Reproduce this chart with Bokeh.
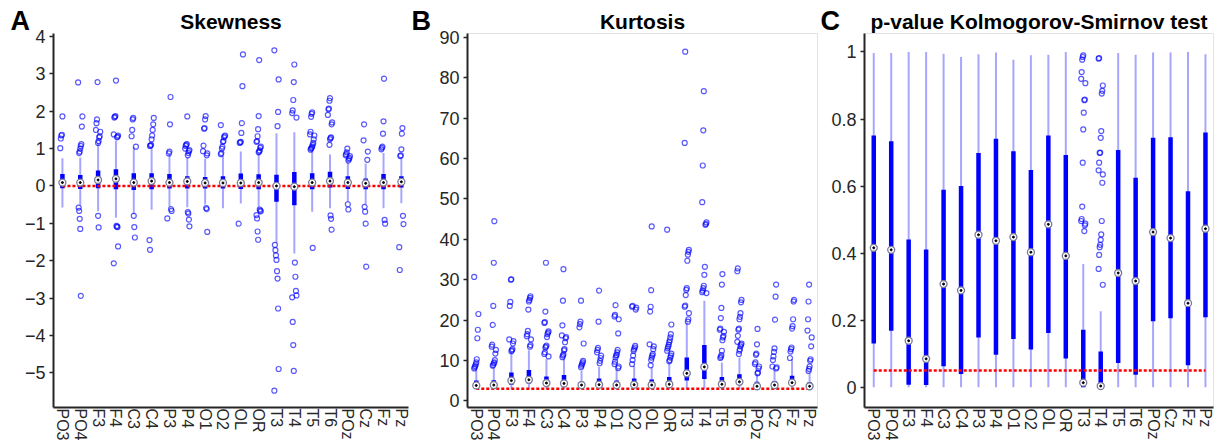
from bokeh.plotting import figure
from bokeh.layouts import row
from bokeh.models import FixedTicker, Range1d, Title
from bokeh.embed import file_html
from bokeh.resources import INLINE

channels = ["PO3", "PO4", "F3", "F4", "C3", "C4", "P3", "P4", "O1", "O2",
            "OL", "OR", "T3", "T4", "T5", "T6", "POz", "Cz", "Fz", "Pz"]

# ---------------- Skewness ----------------
skew_ref = 0.0
skew_med = [0.09, 0.09, 0.16, 0.19, 0.09, 0.13, 0.09, 0.12, 0.08, 0.08,
            0.08, 0.09, 0.0, -0.02, 0.09, 0.13, 0.09, 0.07, 0.09, 0.11]
skew_q1 = [-0.06, -0.08, -0.06, -0.09, -0.11, -0.09, -0.07, -0.07, -0.07, -0.07,
           -0.08, -0.09, -0.42, -0.52, -0.09, -0.04, -0.08, -0.09, -0.09, -0.04]
skew_q3 = [0.32, 0.29, 0.41, 0.45, 0.34, 0.34, 0.32, 0.26, 0.24, 0.26,
           0.33, 0.31, 0.30, 0.37, 0.34, 0.38, 0.26, 0.20, 0.32, 0.26]
skew_wlo = [-0.58, -0.51, -0.68, -0.85, -0.75, -0.64, -0.55, -0.57, -0.50, -0.60,
            -0.47, -0.58, -1.52, -1.81, -0.69, -0.60, -0.43, -0.50, -0.60, -0.46]
skew_whi = [0.74, 0.76, 1.15, 1.20, 1.04, 1.00, 0.86, 0.76, 0.73, 0.80,
            0.92, 0.86, 1.41, 1.44, 0.95, 0.84, 0.63, 0.60, 0.88, 0.76]
skew_out = [
    [1.01, 1.27, 1.35, 1.37, 1.86],
    [0.88, 0.92, 1.0, 1.07, 1.12, 1.59, 1.86, 2.77, -0.58, -0.67, -0.88, -1.15, -2.94],
    [1.15, 1.2, 1.3, 1.33, 1.45, 1.5, 1.68, 1.78, 2.78, -0.8, -1.11],
    [1.3, 1.32, 1.35, 1.38, 1.83, 1.85, 1.87, 2.82, -1.07, -1.09, -1.1, -1.62, -2.07],
    [1.05, 1.33, 1.5, 1.78, 1.82, -0.8, -1.1, -1.38],
    [1.07, 1.08, 1.1, 1.25, 1.35, 1.5, 1.65, 1.82, -1.45, -1.71],
    [0.87, 0.92, 1.65, 2.38, -0.62, -0.67, -0.87],
    [0.82, 0.88, 0.93, 0.96, 1.0, 1.07, 1.1, 1.12, 1.86, -0.7, -0.74, -0.9, -1.08],
    [0.82, 0.87, 0.93, 1.08, 1.53, 1.55, 1.78, 1.87, -0.59, -0.62, -1.23],
    [0.85, 0.88, 1.0, 1.05, 1.18, 1.2, 1.3, 1.33, 1.35, 1.63],
    [1.15, 1.17, 1.18, 1.42, 1.68, 2.67, 3.52, -1.01],
    [0.9, 0.92, 0.95, 1.02, 1.05, 1.18, 1.2, 1.33, 1.52, 1.87, 3.37,
     -0.63, -0.66, -0.68, -0.78, -0.87, -1.22, -1.44],
    [1.6, 1.98, 2.85, 3.63, -1.58, -1.72, -1.86, -1.98, -2.28, -2.48, -3.28, -4.9, -5.48],
    [1.83, 1.95, 2.02, 2.3, 2.78, 3.25, -2.05, -2.43, -2.81, -2.93, -2.98, -3.64, -4.26, -4.95],
    [0.97, 1.0, 1.02, 1.05, 1.1, 1.15, 1.25, 1.35, 1.38, 1.45, 1.85, 1.93, 1.97, -1.66],
    [1.1, 1.25, 1.28, 1.3, 1.65, 1.7, 1.9, 2.05, 2.07, 2.28, 2.35, -0.79, -0.88, -1.17],
    [0.68, 0.72, 0.75, 0.8, 0.82, 0.85, 0.9, 1.0, -0.49, -0.63],
    [0.7, 0.92, 1.22, 1.65, -0.56, -0.69, -1.01, -2.16],
    [0.98, 1.02, 1.05, 1.4, 1.73, 2.87, -0.91, -1.01],
    [0.8, 0.82, 0.98, 1.4, 1.55, -0.8, -1.02, -1.64, -2.25],
]
skew_ticks = [-5, -4, -3, -2, -1, 0, 1, 2, 3, 4]

# ---------------- Kurtosis ----------------
kurt_ref = 3.0
kurt_med = [3.8, 3.9, 5.0, 5.2, 4.4, 4.3, 3.9, 4.0, 3.9, 4.0,
            3.9, 4.1, 6.8, 8.4, 4.1, 4.7, 3.6, 3.9, 4.5, 3.6]
kurt_q1 = [3.3, 3.4, 4.0, 4.3, 3.7, 3.7, 3.3, 3.5, 3.5, 3.5,
           3.5, 3.6, 5.0, 5.4, 3.6, 3.9, 3.1, 3.5, 3.9, 3.1]
kurt_q3 = [5.0, 5.1, 7.0, 7.6, 6.0, 6.4, 4.7, 5.5, 5.0, 5.5,
           5.3, 5.9, 10.7, 13.8, 5.9, 6.6, 4.7, 4.9, 6.2, 4.6]
kurt_wlo = [2.9, 2.9, 3.0, 3.0, 2.9, 2.9, 2.9, 2.9, 2.9, 2.9,
            2.9, 2.9, 3.0, 3.0, 2.9, 2.9, 2.8, 2.9, 2.9, 2.8]
kurt_whi = [7.9, 8.3, 12.0, 12.5, 10.3, 10.5, 7.4, 8.4, 7.9, 8.7,
            8.4, 9.5, 19.4, 24.8, 9.5, 10.7, 6.5, 7.6, 10.3, 7.0]
kurt_out = [
    [8.0, 8.3, 8.6, 9.0, 9.5, 10.3, 15.5, 17.6, 21.5, 30.7],
    [8.7, 8.9, 9.3, 9.5, 10.1, 11.7, 12.6, 13.4, 13.9, 18.8, 23.5, 34.2, 44.5],
    [12.3, 12.5, 12.8, 14.2, 14.8, 15.2, 23.5, 24.5, 30.0, 30.1],
    [13.4, 13.8, 15.2, 16.0, 16.5, 17.3, 22.6, 24.6, 25.0, 25.5, 25.9],
    [11.0, 11.6, 12.0, 13.2, 13.4, 13.7, 15.8, 16.5, 16.9, 17.2, 19.3, 19.5, 22.1, 34.2],
    [10.8, 11.2, 11.5, 12.5, 12.8, 14.5, 15.5, 15.8, 16.2, 18.7, 24.8, 32.6],
    [8.3, 8.7, 9.1, 9.5, 9.9, 14.2, 18.2, 19.0, 19.6, 24.8],
    [9.3, 9.9, 10.6, 11.2, 12.0, 12.6, 13.1, 19.6, 27.3],
    [8.1, 8.5, 9.1, 9.7, 10.7, 11.2, 11.4, 12.0, 12.6, 16.7, 20.2, 20.9, 21.3, 23.7],
    [9.1, 10.1, 11.2, 12.4, 12.8, 13.2, 13.6, 22.6, 23.1, 23.3, 23.5],
    [8.8, 10.1, 10.7, 11.2, 11.6, 12.8, 13.5, 14.0, 22.1, 23.3, 27.4, 43.2],
    [9.8, 10.1, 10.7, 11.2, 11.7, 12.4, 13.0, 13.4, 13.9, 14.5, 15.0, 15.7, 16.5, 18.9, 42.4],
    [19.6, 20.2, 21.7, 23.3, 23.6, 26.2, 27.5, 27.9, 34.7, 36.2, 36.9, 37.4, 63.9, 86.5],
    [26.7, 26.9, 27.3, 27.9, 28.5, 31.2, 33.2, 43.6, 43.8, 44.2, 49.2, 58.3, 67.0, 76.7],
    [10.6, 10.9, 11.3, 12.4, 15.0, 15.7, 16.1, 17.1, 17.6, 17.9, 20.5, 23.0, 28.8, 31.4],
    [11.6, 12.4, 12.8, 13.5, 13.9, 14.2, 14.6, 16.1, 17.6, 17.9, 20.2, 20.8, 21.7,
     24.4, 25.0, 32.1, 32.8],
    [6.8, 7.0, 8.0, 8.5, 9.1, 9.5, 11.4, 11.7, 14.0, 17.8],
    [8.0, 8.3, 8.5, 10.1, 11.0, 12.1, 13.0, 20.1, 25.8, 28.8],
    [10.6, 12.2, 12.8, 13.2, 17.9, 18.5, 20.2, 24.6, 25.0],
    [7.4, 7.9, 8.5, 9.9, 10.3, 13.5, 15.7, 17.4, 20.2, 24.6, 28.8],
]
kurt_ticks = [0, 10, 20, 30, 40, 50, 60, 70, 80, 90]

# ---------------- p-value KS test ----------------
ks_ref = 0.05
ks_med = [0.416, 0.41, 0.139, 0.085, 0.308, 0.289, 0.455, 0.437, 0.448, 0.403,
          0.486, 0.392, 0.014, 0.004, 0.341, 0.317, 0.463, 0.445, 0.251, 0.473]
ks_q1 = [0.131, 0.169, 0.008, 0.007, 0.063, 0.04, 0.149, 0.097, 0.144, 0.113,
         0.162, 0.086, 0.0, 0.0, 0.073, 0.038, 0.197, 0.206, 0.066, 0.209]
ks_q3 = [0.751, 0.734, 0.441, 0.411, 0.589, 0.60, 0.699, 0.741, 0.704, 0.648,
         0.751, 0.693, 0.172, 0.107, 0.708, 0.625, 0.744, 0.746, 0.585, 0.76]
ks_wlo = [0.0, 0.0, 0.0, 0.0, 0.0, 0.0, 0.0, 0.0, 0.0, 0.0,
          0.0, 0.0, 0.0, 0.0, 0.0, 0.0, 0.0, 0.0, 0.0, 0.0]
ks_whi = [0.997, 0.997, 1.0, 1.0, 0.995, 0.985, 0.993, 0.998, 0.977, 0.99,
          0.992, 1.0, 0.368, 0.227, 0.997, 0.992, 0.998, 0.998, 1.0, 0.993]
ks_out = [
    [], [], [], [], [], [], [], [], [], [], [], [],
    [0.466, 0.483, 0.488, 0.496, 0.502, 0.539, 0.67, 0.769, 0.819, 0.856, 0.858,
     0.907, 0.92, 0.94, 0.977, 0.985, 0.99],
    [0.306, 0.353, 0.395, 0.418, 0.425, 0.44, 0.456, 0.496, 0.61, 0.635, 0.647,
     0.67, 0.699, 0.7, 0.744, 0.764, 0.876, 0.884, 0.9, 0.98, 0.982],
    [], [], [], [], [], [],
]
ks_ticks = [0, 0.2, 0.4, 0.6, 0.8, 1]
ks_labels = {0: "0", 0.2: "0.2", 0.4: "0.4", 0.6: "0.6", 0.8: "0.8", 1: "1"}

FONT = "Liberation Sans"
AXIS_COLOR = "#262626"


def panel(title, letter, med, q1, q3, wlo, whi, outs, ref, yr, yticks, ylabels,
          width, bl, br, xr, outline, letter_dx):
    p = figure(width=width, height=444, output_backend="svg", toolbar_location=None,
               x_range=Range1d(*xr), y_range=Range1d(*yr),
               min_border_left=bl, min_border_right=br,
               min_border_top=33, min_border_bottom=37)
    # main title (outermost), pulled down onto the same line as the panel letter
    p.title.text = title
    p.title.align = "center"
    p.title.text_font = FONT
    p.title.text_font_size = "21px"
    p.title.text_font_style = "bold"
    p.title.text_color = "black"
    p.title.standoff = -54
    # panel letter (next to the frame), shifted to the far left
    p.add_layout(Title(text=letter, align="left", offset=letter_dx, standoff=-4,
                       text_font=FONT, text_font_size="27px", text_font_style="bold",
                       text_color="black"), "above")
    p.xgrid.visible = False
    p.ygrid.visible = False
    p.outline_line_color = outline

    n = len(channels)
    xs = list(range(1, n + 1))

    # whiskers
    p.segment(x0=xs, y0=wlo, x1=xs, y1=whi, line_color="#0000ff",
              line_alpha=0.35, line_width=2)
    # boxes (compact style)
    p.segment(x0=xs, y0=q1, x1=xs, y1=q3, line_color="#0000ff", line_width=4.5)
    # reference line
    p.line(x=[xs[0], xs[-1]], y=[ref, ref], line_color="#ff0000",
           line_width=2.5, line_dash="3 2")
    # outliers, with a small fixed horizontal jitter
    ox, oy = [], []
    for i, vals in enumerate(outs):
        for k, v in enumerate(vals):
            ox.append(xs[i] + ((k * 37 + i * 11) % 9 - 4) * 0.03)
            oy.append(v)
    p.scatter(x=ox, y=oy, marker="circle", size=5, fill_color=None,
              line_color="#0000ff", line_alpha=0.65, line_width=1.2)
    # medians
    p.scatter(x=xs, y=med, marker="circle", size=7, fill_color="white",
              line_color="#7a7a9a", line_width=1.3)
    p.scatter(x=xs, y=med, marker="circle", size=2, fill_color="black",
              line_color="black")

    for ax in (p.xaxis, p.yaxis):
        ax.axis_line_width = 2
        ax.axis_line_color = AXIS_COLOR
        ax.minor_tick_line_color = None
        ax.major_label_text_font = FONT
        ax.major_label_text_color = AXIS_COLOR
    p.xaxis.ticker = FixedTicker(ticks=xs)
    p.xaxis.major_label_overrides = {x: c for x, c in zip(xs, channels)}
    p.xaxis.major_label_orientation = "vertical"
    p.xaxis.major_tick_line_color = None
    p.xaxis.major_tick_out = 0
    p.xaxis.major_tick_in = 0
    p.xaxis.major_label_text_font_size = "16px"
    p.xaxis.major_label_standoff = 1
    p.xaxis.axis_label_standoff = 0
    p.yaxis.ticker = FixedTicker(ticks=yticks)
    if ylabels:
        p.yaxis.major_label_overrides = ylabels
    p.yaxis.major_tick_out = 4
    p.yaxis.major_tick_in = 0
    p.yaxis.major_tick_line_color = AXIS_COLOR
    p.yaxis.major_tick_line_width = 1.5
    p.yaxis.major_label_text_font_size = "18px"
    p.yaxis.major_label_standoff = 4
    return p


pa = panel("Skewness", "A", skew_med, skew_q1, skew_q3, skew_wlo, skew_whi, skew_out,
           skew_ref, (-5.93, 4.08), skew_ticks, None, 410, 53, 2, (0.5, 20.4), None, -43)
pb = panel("Kurtosis", "B", kurt_med, kurt_q1, kurt_q3, kurt_wlo, kurt_whi, kurt_out,
           kurt_ref, (-1.66, 91.0), kurt_ticks, None, 410, 57, 3, (0.5, 20.45),
           "#e3e3e3", -56)
pc = panel("p-value Kolmogorov-Smirnov test", "C", ks_med, ks_q1, ks_q3, ks_wlo, ks_whi,
           ks_out, ks_ref, (-0.06, 1.055), ks_ticks, ks_labels, 401, 44, 8, (0.47, 20.46),
           "#e3e3e3", -44)

layout = row(pa, pb, pc, spacing=0)
open("out.html", "w").write(file_html(layout, INLINE))
